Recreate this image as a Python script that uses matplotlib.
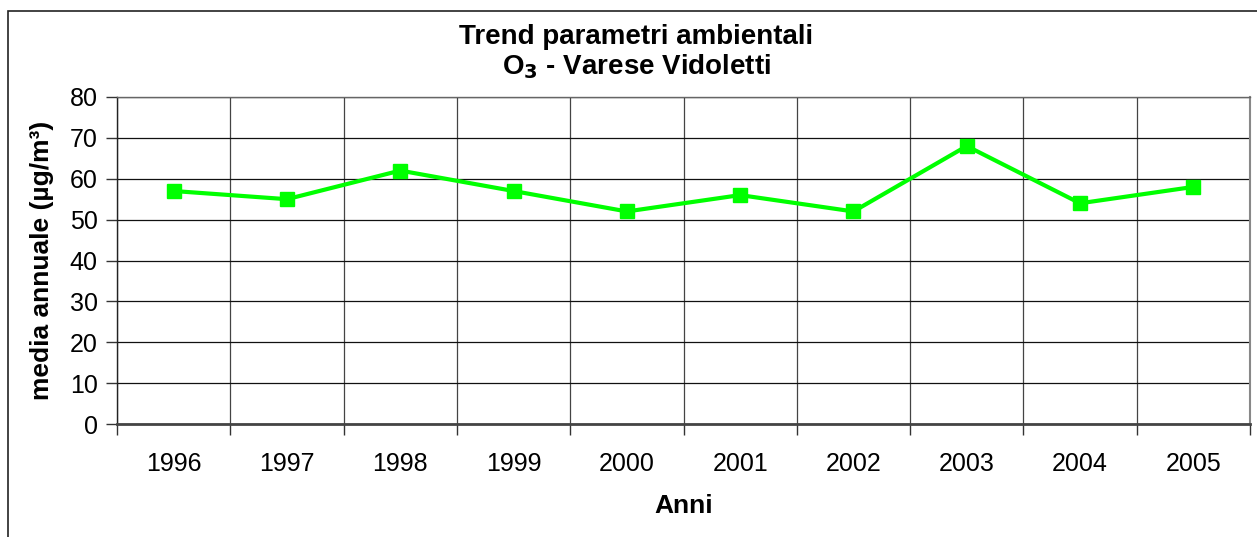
import matplotlib
matplotlib.use("Agg")
import matplotlib.pyplot as plt
from matplotlib.patches import Rectangle
import numpy as np

years = ["1996", "1997", "1998", "1999", "2000", "2001", "2002", "2003", "2004", "2005"]
values = [57, 55, 62, 57, 52, 56, 52, 68, 54, 58]
y_ticks = [0, 10, 20, 30, 40, 50, 60, 70, 80]

plt.rcParams['font.family'] = ['Liberation Sans', 'DejaVu Sans']

W, H = 1257, 537
fig = plt.figure(figsize=(W / 100, H / 100), dpi=100)
ax = fig.add_axes([117 / W, 1 - 424 / H, 1133 / W, 327 / H])

x = np.arange(len(years)) + 0.5
ax.plot(x, values, color='#00FF00', lw=3, marker='s', markersize=10,
        markerfacecolor='#00FF00', markeredgecolor='#00FF00', zorder=5, clip_on=False)

ax.set_xlim(0, len(years))
ax.set_ylim(0, 80)
ax.set_yticks(y_ticks)
ax.set_xticks(np.arange(len(years) + 1))
ax.set_xticklabels([])
ax.set_xticks(x, minor=True)
ax.set_xticklabels(years, minor=True)
ax.tick_params(axis='x', which='minor', length=0, pad=20, labelsize=18)
ax.tick_params(axis='x', which='major', direction='out', length=8, width=1, color='#333333')
ax.tick_params(axis='y', direction='out', length=8, width=1, pad=6, labelsize=18, color='#333333')

ax.grid(True, axis='y', which='major', color='#111111', lw=0.9)
ax.grid(True, axis='x', which='major', color='#444444', lw=0.9)
ax.set_axisbelow(True)
ax.spines['left'].set_color('#222222'); ax.spines['left'].set_linewidth(1)
ax.spines['bottom'].set_color('#444444'); ax.spines['bottom'].set_linewidth(2)
ax.spines['right'].set_color('#888888'); ax.spines['right'].set_linewidth(1.5)
ax.spines['top'].set_color('#666666'); ax.spines['top'].set_linewidth(1)

ax.set_xlabel("Anni", fontsize=19, fontweight='bold', labelpad=13)
ax.set_ylabel("media annuale (µg/m³)", fontsize=19, fontweight='bold', labelpad=11)

fig.text(636 / W, 1 - 37 / H, "Trend parametri ambientali", ha='center', va='center',
         fontsize=20, fontweight='bold')
fig.text(636 / W, 1 - 67 / H, r"O$_\mathbf{3}$ - Varese Vidoletti", ha='center', va='center',
         fontsize=20, fontweight='bold')

fig.patches.append(Rectangle((7.5 / W, -0.2), 1.5, 1.2 - 10.5 / H, transform=fig.transFigure,
                             fill=False, edgecolor='#222222', lw=1.2))

fig.savefig("out.png", dpi=100)
